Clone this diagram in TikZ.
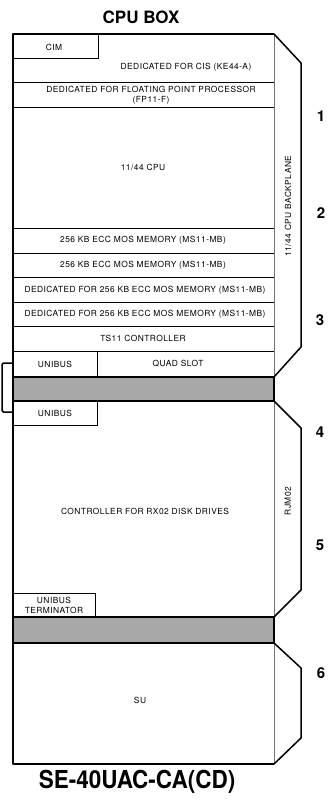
\documentclass[tikz,border=0pt]{standalone}
\usepackage{fontspec}
\setmainfont{TeX Gyre Heros}
\newfontfamily\lblfont[LetterSpace=5.5]{TeX Gyre Heros}
\begin{document}
\begin{tikzpicture}[x=1pt,y=-1pt,
  thickline/.style={line width=1.5pt, line join=round},
  thinline/.style={line width=0.7pt},
  paleline/.style={line width=0.6pt, draw=black!55},
  lbl/.style={font=\lblfont\fontsize{8.4}{9.6}\selectfont, inner sep=0pt, align=center},
  num/.style={font=\bfseries\fontsize{15}{15}\selectfont, inner sep=0pt},
  ttl/.style={font=\bfseries\fontsize{17}{17}\selectfont, inner sep=0pt},
  band/.style={fill=black!34}]
\useasboundingbox (0,0) rectangle (328,801);
% gray bands
\fill[band] (13,377) rectangle (274,401);
\fill[band] (13,617) rectangle (274,643);
% inner separators
\draw[thinline] (13,82) -- (274,82);
\draw[thinline] (13,107) -- (274,107);
\draw[thinline] (13,228) -- (274,228);
\draw[thinline] (13,253) -- (274,253);
\draw[thinline] (13,277) -- (274,277);
\draw[thinline] (13,302) -- (274,302);
\draw[thinline] (13,326) -- (274,326);
\draw[thinline] (13,351) -- (274,351);
\draw[thinline] (13,58) -- (98,58) -- (98,34);
\draw[thinline] (97,351) -- (97,377);
\draw[thinline] (13,425) -- (97,425) -- (97,401);
\draw[thinline] (13,593) -- (95,593) -- (95,617);
% right inner line
\draw[paleline] (274,34) -- (274,764);
% band borders
\draw[thickline] (13,377) -- (274,377) -- (274,401) -- (13,401);
\draw[thickline] (13,617) -- (274,617) -- (274,643) -- (13,643);
% outer box
\draw[thickline] (274,34) -- (13,34) -- (13,764) -- (274,764);
% side panels
\draw[thickline] (274,34) -- (301,63) -- (301,347) -- (274,377);
\draw[thickline] (274,401) -- (301,428) -- (301,590) -- (274,617);
\draw[thickline] (274,643) -- (301,668) -- (301,738) -- (274,764);
% bracket
\draw[thickline, rounded corners=1.5pt] (13,363) -- (2,363) -- (2,412) -- (13,412);
% labels
\node[ttl] (title) at (141,17) {CPU BOX};
\node[font=\bfseries\fontsize{22.5}{22.5}\selectfont, inner sep=0pt, yscale=1.1] (model) at (137,782) {SE-40UAC-CA(CD)};
\node[lbl] (cim) at (54,47) {CIM};
\node[lbl] (cis) at (186,67) {DEDICATED FOR CIS (KE44-A)};
\node[lbl] (fpp) at (151,95) {DEDICATED FOR FLOATING POINT PROCESSOR\\(FP11-F)};
\node[lbl] (cpu) at (143,167) {11/44 CPU};
\node[lbl] (mem1) at (143,240) {256 KB ECC MOS MEMORY (MS11-MB)};
\node[lbl] (mem2) at (143,265) {256 KB ECC MOS MEMORY (MS11-MB)};
\node[lbl] (ded1) at (145,290) {DEDICATED FOR 256 KB ECC MOS MEMORY (MS11-MB)};
\node[lbl] (ded2) at (145,314) {DEDICATED FOR 256 KB ECC MOS MEMORY (MS11-MB)};
\node[lbl] (ts11) at (143,338) {TS11 CONTROLLER};
\node[lbl] (ub1) at (55,364) {UNIBUS};
\node[lbl] (quad) at (178,364) {QUAD SLOT};
\node[lbl] (ub2) at (55,413) {UNIBUS};
\node[lbl] (rx02) at (145,511) {CONTROLLER FOR RX02 DISK DRIVES};
\node[lbl] (term) at (54,605.5) {UNIBUS\\TERMINATOR};
\node[lbl] (su) at (140,700) {SU};
\node[lbl, rotate=90] (bp) at (288,206) {11/44 CPU BACKPLANE};
\node[lbl, rotate=90] (rjm) at (288,501) {RJM02};
\node[num] (n1) at (321,116) {1};
\node[num] (n2) at (321,213) {2};
\node[num] (n3) at (320,320) {3};
\node[num] (n4) at (320,432) {4};
\node[num] (n5) at (320,545) {5};
\node[num] (n6) at (321,673) {6};
\end{tikzpicture}
\end{document}
